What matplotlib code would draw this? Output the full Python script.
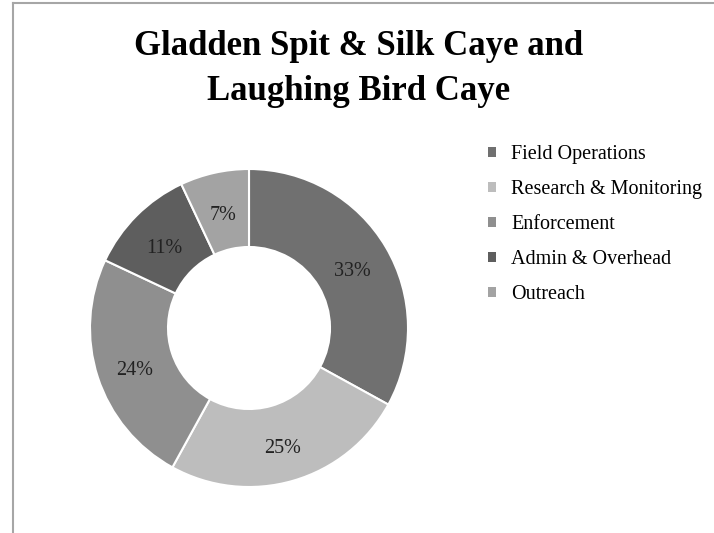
import matplotlib
matplotlib.use("Agg")
import matplotlib.pyplot as plt
from matplotlib.lines import Line2D
from matplotlib.patches import Patch

categories = ["Field Operations", "Research & Monitoring", "Enforcement",
              "Admin & Overhead", "Outreach"]
values = [33, 25, 24, 11, 7]
colors = ["#707070", "#bdbdbd", "#8f8f8f", "#5e5e5e", "#a3a3a3"]
title_lines = ["Gladden Spit & Silk Caye and", "Laughing Bird Caye"]

W, H = 714, 533
fig = plt.figure(figsize=(W / 100, H / 100), dpi=100)
fig.patch.set_facecolor("white")

# chart frame (left and top edges visible)
frame_kw = dict(color="#a6a6a6", linewidth=1.5, transform=fig.transFigure)
fig.add_artist(Line2D([13 / W, 13 / W], [0, 1 - 3 / H], **frame_kw))
fig.add_artist(Line2D([13 / W, 1], [1 - 3 / H, 1 - 3 / H], **frame_kw))

# two-line title, each line placed on its own baseline
for line, base in zip(title_lines, [55, 100]):
    fig.text(359 / W, 1 - base / H, line, ha="center", va="baseline",
             fontsize=25, fontweight="bold", family="Liberation Serif")

# donut
cx, cy, R = 249, 328, 159
half = 170
ax = fig.add_axes([(cx - half) / W, (H - cy - half) / H, 2 * half / W, 2 * half / H])
wedges, texts, autotexts = ax.pie(
    values, colors=colors, startangle=90, counterclock=False, radius=1,
    autopct=lambda p: f"{p:.0f}%", pctdistance=0.755,
    wedgeprops=dict(width=1 - 81 / R, edgecolor="white", linewidth=1.5),
    textprops=dict(fontsize=14.5, family="Liberation Serif", color="#222222"))
# nudge the percentage labels slightly downward
for t in autotexts:
    x, y = t.get_position()
    t.set_position((x, y - 5 / R))
lim = half / R
ax.set_xlim(-lim, lim)
ax.set_ylim(-lim, lim)
ax.set_axis_off()

# legend
fs = 14.5
fpx = fs * 100 / 72
handles = [Patch(facecolor=c, edgecolor="none") for c in colors]
fig.legend(handles, categories, loc="upper left",
           bbox_to_anchor=(488 / W, 1 - 145 / H), frameon=False,
           prop=dict(family="Liberation Serif", size=fs),
           handlelength=8 / fpx, handleheight=8 / fpx, handletextpad=15 / fpx,
           labelspacing=0.8, borderaxespad=0, borderpad=0)

fig.savefig("out.png", dpi=100, facecolor="white")
